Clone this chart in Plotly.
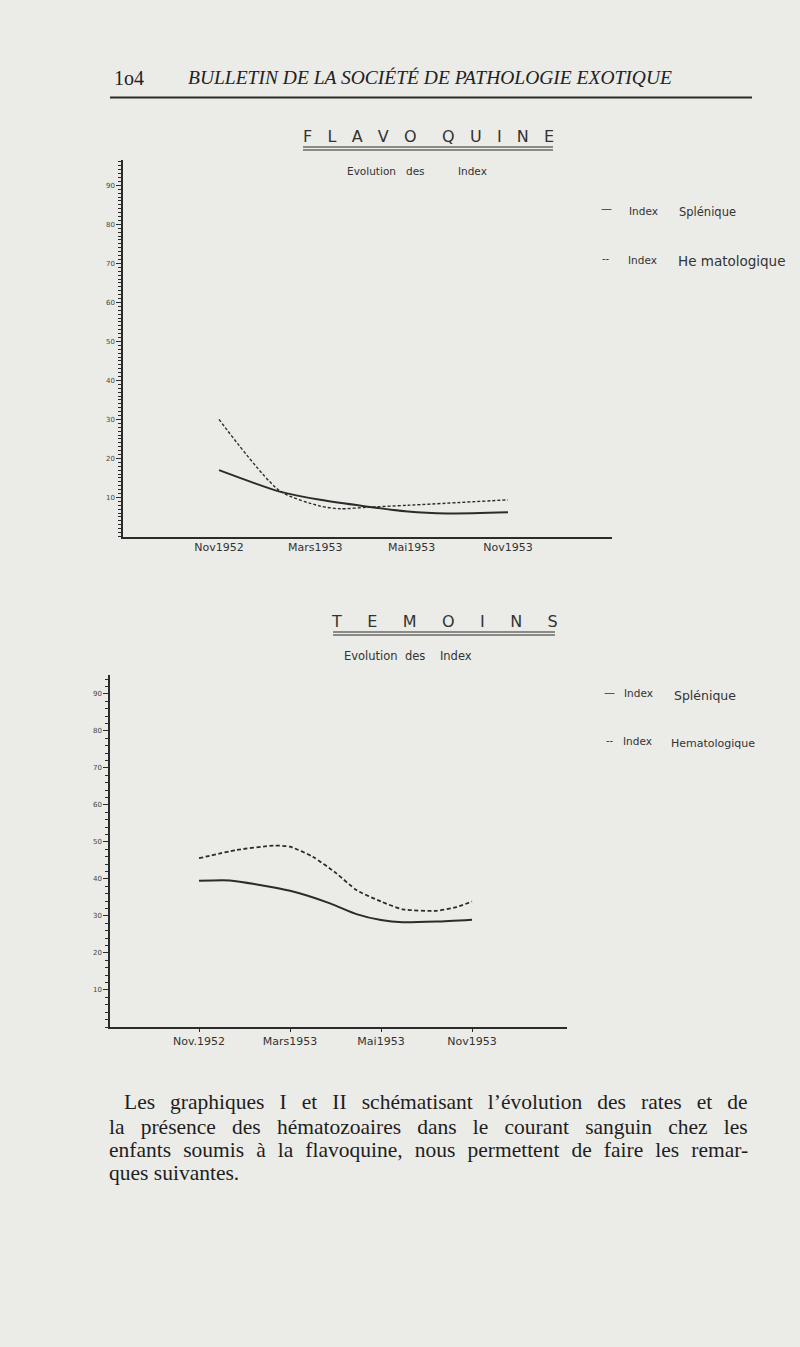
import plotly.graph_objects as go

W, H = 800, 1347

# ---------------- data ----------------
month_labels_1 = ["Nov1952", "Mars1953", "Mai1953", "Nov1953"]
month_labels_2 = ["Nov.1952", "Mars1953", "Mai1953", "Nov1953"]

# Chart 1 : FLAVOQUINE
flav_x_splen = [0, 0.63, 1.05, 1.96, 2.37, 3]
flav_splen = [17, 11.5, 9.4, 6.4, 5.9, 6.2]
flav_x_hema = [0, 0.63, 1.05, 1.26, 1.54, 1.96, 3]
flav_hema = [30, 11.7, 7.8, 7.1, 7.5, 8.0, 9.4]

# Chart 2 : TEMOINS
tem_x_splen = [0, 0.34, 1.0, 1.44, 1.73, 2.0, 2.24, 2.61, 3]
tem_splen = [39.5, 39.6, 36.8, 33.4, 30.5, 28.9, 28.3, 28.5, 29.0]
tem_x_hema = [0, 0.41, 0.82, 1.0, 1.25, 1.51, 1.73, 2.0, 2.24, 2.61, 2.83, 3]
tem_hema = [45.6, 47.8, 49.0, 48.7, 46.0, 41.5, 37.0, 33.9, 31.8, 31.4, 32.4, 33.9]

y_tick_vals = [10, 20, 30, 40, 50, 60, 70, 80, 90]
y_tick_text = ["10", "20", "30", "40", "50", "60", "70", "80", "90"]

# ---------------- helpers ----------------
def px(x, y):
    return x / W, 1 - y / H

BG = "#ebebe7"
INK = "#2b2b2b"

fig = go.Figure()

fig.add_trace(go.Scatter(x=flav_x_splen, y=flav_splen, mode="lines",
                         line=dict(color=INK, width=2, shape="spline", smoothing=0.7),
                         xaxis="x", yaxis="y", showlegend=False))
fig.add_trace(go.Scatter(x=flav_x_hema, y=flav_hema, mode="lines",
                         line=dict(color=INK, width=1.4, dash="3px,2px", shape="spline", smoothing=0.7),
                         xaxis="x", yaxis="y", showlegend=False))
fig.add_trace(go.Scatter(x=tem_x_splen, y=tem_splen, mode="lines",
                         line=dict(color=INK, width=2, shape="spline", smoothing=0.6),
                         xaxis="x2", yaxis="y2", showlegend=False))
fig.add_trace(go.Scatter(x=tem_x_hema, y=tem_hema, mode="lines",
                         line=dict(color=INK, width=1.8, dash="4px,2.5px", shape="spline", smoothing=0.6),
                         xaxis="x2", yaxis="y2", showlegend=False))

x1d = [123 / W, 612 / W]
y1d = [1 - 536.5 / H, 1 - 160 / H]
x2d = [110 / W, 567 / W]
y2d = [1 - 1027 / H, 1 - 675 / H]

tickfont_y = dict(family="DejaVu Sans", size=7, color="#444")
tickfont_x = dict(family="DejaVu Sans", size=11, color="#333")

common_y = dict(showgrid=False, zeroline=False, showline=True, linecolor=INK, linewidth=1.5,
                ticks="outside", ticklen=5, tickwidth=1, tickcolor=INK,
                tickvals=y_tick_vals, ticktext=y_tick_text, tickfont=tickfont_y,
                fixedrange=True)

fig.update_layout(
    width=W, height=H,
    margin=dict(l=0, r=0, t=0, b=0),
    paper_bgcolor=BG, plot_bgcolor=BG,
    xaxis=dict(domain=x1d, range=[-0.997, 4.08], showgrid=False, zeroline=False,
               showline=True, linecolor=INK, linewidth=1.5, ticks="",
               tickvals=[0, 1, 2, 3], ticktext=month_labels_1, tickfont=tickfont_x, anchor="y"),
    yaxis=dict(domain=y1d, range=[0, 96.5], anchor="x",
               minor=dict(dtick=1, ticklen=3, ticks="outside", tickcolor=INK), **common_y),
    xaxis2=dict(domain=x2d, range=[-0.978, 4.044], showgrid=False, zeroline=False,
                showline=True, linecolor=INK, linewidth=1.5, ticks="outside", ticklen=3,
                tickcolor=INK,
                tickvals=[0, 1, 2, 3], ticktext=month_labels_2, tickfont=tickfont_x, anchor="y2"),
    yaxis2=dict(domain=y2d, range=[0, 95.1], anchor="x2",
                minor=dict(dtick=2, ticklen=3, ticks="outside", tickcolor=INK), **common_y),
)

ann = []
def text(x, y, s, size, family="DejaVu Sans", color="#333", anchor="left"):
    ax, ay = px(x, y)
    ann.append(dict(x=ax, y=ay, xref="paper", yref="paper", text=s, showarrow=False,
                    xanchor=anchor, yanchor="middle",
                    font=dict(family=family, size=size, color=color)))

NB = "\u00a0"
def spaced(s, gap):
    return (NB * gap).join(list(s))

# header
text(112, 78, "1o4", 20, family="Liberation Serif", color="#222")
text(186, 78, "<i>BULLETIN DE LA SOCIÉTÉ DE PATHOLOGIE EXOTIQUE</i>", 19.5,
     family="Liberation Serif", color="#222")

# chart 1 titles
text(428, 136, spaced("FLAVO", 3) + NB * 5 + spaced("QUINE", 3), 16, anchor="center")
text(345, 171, "Evolution" + NB * 3 + "des" + NB * 10 + "Index", 10.5)
text(599, 209, "—", 11)
text(627, 211, "Index", 10.5)
text(677, 212, "Splénique", 11.5)
text(600, 258, "--", 10)
text(626, 260, "Index", 10.5)
text(676, 261, "He" + NB + "matologique", 13.5)

# chart 2 titles
text(342, 656, "Evolution" + NB * 2 + "des" + NB * 4 + "Index", 11.5)
text(444, 622, spaced("TEMOINS", 5), 16, anchor="center")
text(602, 692, "—", 11)
text(622, 693, "Index", 10.5)
text(672, 695, "Splénique", 12.5)
text(604, 740, "--", 10)
text(621, 741, "Index", 10.5)
text(669, 743, "Hematologique", 11)

# paragraph (justified with word spacing)
para = [
    "Les graphiques I et II schématisant l’évolution des rates et de",
    "la présence des hématozoaires dans le courant sanguin chez les",
    "enfants soumis à la flavoquine, nous permettent de faire les remar-",
    "ques suivantes.",
]
para_x = [122, 107, 107, 107]
para_ws = [9.7, 10.8, 6.7, 0]
ys = [1102, 1127, 1150, 1173]
for s, xx, ws, yy in zip(para, para_x, para_ws, ys):
    text(xx, yy, '<span style="word-spacing:%.1fpx">%s</span>' % (ws, s), 21.5,
         family="Liberation Serif", color="#1e1e1e")

fig.update_layout(annotations=ann)

shapes = []
def hline(x0, x1, y, w=1.5):
    a0, b = px(x0, y)
    a1, _ = px(x1, y)
    shapes.append(dict(type="line", xref="paper", yref="paper", x0=a0, x1=a1, y0=b, y1=b,
                       line=dict(color=INK, width=w)))
hline(110, 752, 97.5, 2)
hline(303, 553, 147, 1.2)
hline(303, 553, 150, 1.2)
hline(333, 555, 632, 1.2)
hline(333, 555, 635, 1.2)
fig.update_layout(shapes=shapes)

fig.write_html("out.html", config={"displayModeBar": False},
               post_script="document.body.style.margin='0';document.body.style.background='%s';" % BG)
